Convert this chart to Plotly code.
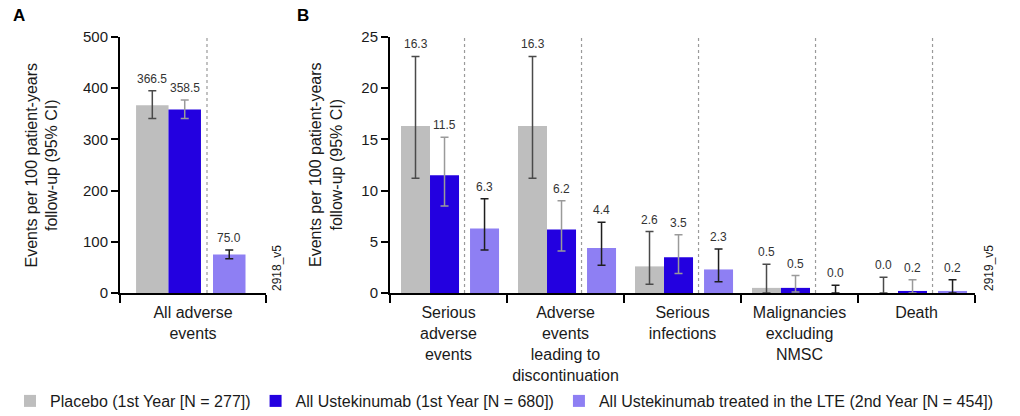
import plotly.graph_objects as go

FONT = "Liberation Sans, Arial, Helvetica, sans-serif"
W, H = 1020, 416

# ---- Panel A: all adverse events ----
cat_a = ["All adverse<br>events"]
placebo_a = [366.5]
placebo_a_lo = [341.0]
placebo_a_hi = [395.0]
ust_a = [358.5]
ust_a_lo = [341.0]
ust_a_hi = [377.0]
lte_a = [75.0]
lte_a_lo = [67.0]
lte_a_hi = [84.0]

# ---- Panel B: events of interest ----
cat_b = [
    "Serious<br>adverse<br>events",
    "Adverse<br>events<br>leading to<br>discontinuation",
    "Serious<br>infections",
    "Malignancies<br>excluding<br>NMSC",
    "Death",
]
placebo_b = [16.3, 16.3, 2.6, 0.5, 0.0]
placebo_b_lo = [11.2, 11.2, 0.85, 0.0, 0.0]
placebo_b_hi = [23.1, 23.1, 6.0, 2.8, 1.55]
ust_b = [11.5, 6.2, 3.5, 0.5, 0.2]
ust_b_lo = [8.5, 4.1, 1.9, 0.1, 0.0]
ust_b_hi = [15.2, 9.0, 5.7, 1.7, 1.3]
lte_b = [6.3, 4.4, 2.3, 0.0, 0.2]
lte_b_lo = [4.2, 2.7, 1.1, 0.0, 0.0]
lte_b_hi = [9.2, 6.9, 4.3, 0.75, 1.3]

series_names = [
    "Placebo (1st Year [N = 277])",
    "All Ustekinumab (1st Year [N = 680])",
    "All Ustekinumab treated in the LTE (2nd Year [N = 454])",
]
bar_colors = ["#BEBEBE", "#2300E0", "#8E7FF3"]
err_colors = ["#4a4a4a", "#9a9a9a", "#1e1e1e"]

# bar placement inside each category slot (category units, relative to centre)
offsets_a = [-0.390, -0.168, 0.137]
width_a = 0.2226
offsets_b = [-0.406, -0.158, 0.184]
width_b = 0.248

fig = go.Figure()
annotations = []
shapes = []


def add_panel(cats, groups, offsets, width, xa, ya, show_legend):
    for k, (vals, lo, hi) in enumerate(groups):
        fig.add_trace(go.Bar(
            x=cats, y=vals,
            offset=offsets[k], width=width,
            marker=dict(color=bar_colors[k], line=dict(width=0)),
            error_y=dict(
                type="data", symmetric=False,
                array=[h - v for v, h in zip(vals, hi)],
                arrayminus=[v - l for v, l in zip(vals, lo)],
                color=err_colors[k], thickness=1.5, width=4,
            ),
            name=series_names[k], legendgroup=series_names[k],
            showlegend=show_legend, xaxis=xa, yaxis=ya, hoverinfo="skip",
        ))
        for i, (v, h) in enumerate(zip(vals, hi)):
            annotations.append(dict(
                x=i + offsets[k] + width / 2, y=h,
                xref=xa, yref=ya, text=f"{v:.1f}", showarrow=False,
                yanchor="bottom", yshift=3,
                font=dict(family=FONT, size=12, color="#333333"),
            ))
    # dashed separator between first-year bars and LTE bars
    sep = (offsets[1] + width + offsets[2]) / 2
    for i in range(len(cats)):
        shapes.append(dict(
            type="line", xref=xa, yref=ya + " domain",
            x0=i + sep, x1=i + sep, y0=0, y1=1,
            line=dict(color="#9a9a9a", width=1.2, dash="3px,3px"),
            layer="below",
        ))


add_panel(cat_a, [(placebo_a, placebo_a_lo, placebo_a_hi),
                  (ust_a, ust_a_lo, ust_a_hi),
                  (lte_a, lte_a_lo, lte_a_hi)],
          offsets_a, width_a, "x", "y", False)
add_panel(cat_b, [(placebo_b, placebo_b_lo, placebo_b_hi),
                  (ust_b, ust_b_lo, ust_b_hi),
                  (lte_b, lte_b_lo, lte_b_hi)],
          offsets_b, width_b, "x2", "y2", True)

y_bottom = (H - 293) / H
y_top = (H - 37) / H
y_mid = (y_bottom + y_top) / 2

ytitle = "Events per 100 patient-years<br>follow-up (95% CI)"
for xpix in (41.5, 326):
    annotations.append(dict(
        x=xpix / W, y=y_mid, xref="paper", yref="paper", text=ytitle,
        textangle=-90, showarrow=False, xanchor="center", yanchor="middle",
        font=dict(family=FONT, size=16, color="#1a1a1a"),
    ))
for txt, xpix in (("A", 19), ("B", 303)):
    annotations.append(dict(
        x=xpix / W, y=(H - 16) / H, xref="paper", yref="paper",
        text=f"<b>{txt}</b>", showarrow=False, xanchor="center", yanchor="middle",
        font=dict(family=FONT, size=17, color="#000000"),
    ))
for txt, xpix in (("2918_v5", 277), ("2919_v5", 989)):
    annotations.append(dict(
        x=xpix / W, y=y_bottom, xref="paper", yref="paper", text=txt,
        textangle=-90, showarrow=False, xanchor="center", yanchor="bottom",
        font=dict(family=FONT, size=12, color="#1a1a1a"),
    ))

xcommon = dict(
    type="category", tickson="boundaries", ticks="outside", ticklen=8,
    tickwidth=2, tickcolor="black", showline=True, linewidth=2,
    linecolor="black", showgrid=False, zeroline=False, ticklabelstandoff=4,
    tickfont=dict(family=FONT, size=16, color="#1a1a1a"), fixedrange=True,
)
ycommon = dict(
    ticks="outside", ticklen=7, tickwidth=2, tickcolor="black",
    showline=True, linewidth=2, linecolor="black", showgrid=False,
    zeroline=False, tickfont=dict(family=FONT, size=15, color="#1a1a1a"),
    domain=[y_bottom, y_top],
)

fig.update_layout(
    width=W, height=H,
    margin=dict(l=0, r=0, t=0, b=0, autoexpand=False),
    paper_bgcolor="white", plot_bgcolor="white",
    barmode="overlay",
    font=dict(family=FONT, size=14, color="#1a1a1a"),
    xaxis=dict(xcommon, domain=[120 / W, 266 / W], anchor="y",
               range=[-0.5, 0.5]),
    yaxis=dict(ycommon, anchor="x", range=[0, 500], tickvals=[0, 100, 200, 300, 400, 500]),
    xaxis2=dict(xcommon, domain=[390 / W, 975 / W], anchor="y2",
                range=[-0.5, 4.5]),
    yaxis2=dict(ycommon, anchor="x2", range=[0, 25], tickvals=[0, 5, 10, 15, 20, 25]),
    legend=dict(
        orientation="h", x=10 / W, y=15 / H, xanchor="left", yanchor="middle",
        font=dict(family=FONT, size=16, color="#1a1a1a"),
        bgcolor="rgba(0,0,0,0)", traceorder="normal",
    ),
    annotations=annotations,
    shapes=shapes,
    showlegend=True,
)

fig.write_html("out.html")
